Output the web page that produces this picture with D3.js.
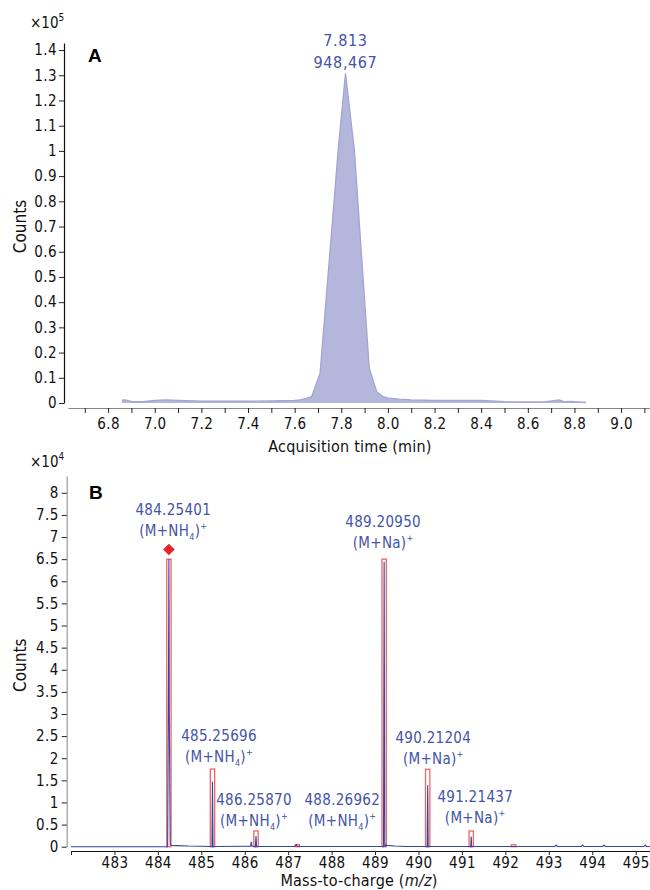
<!DOCTYPE html>
<html><head><meta charset="utf-8">
<script src="https://cdn.jsdelivr.net/npm/d3@7"></script>
<style>
body{margin:0;background:#fff;}
svg text{font-family:'Liberation Sans Narrow','DejaVu Sans Condensed','Roboto Condensed',sans-serif;font-stretch:condensed;}
</style></head>
<body><svg id="c" width="650" height="890"></svg>
<script>
// ---------- Panel A: chromatogram ----------
const timeA = [6.859,6.875,6.90,6.95,7.00,7.05,7.10,7.20,7.30,7.40,7.50,7.55,7.60,7.623,7.650,7.673,7.709,7.750,7.788,7.818,7.856,7.890,7.920,7.952,7.980,8.002,8.05,8.10,8.20,8.30,8.40,8.50,8.60,8.68,8.735,8.76,8.78,8.80,8.85];
const countsA = [1100,1200,500,500,1000,1200,1000,700,700,700,800,900,1000,1200,1800,2500,11800,58400,101700,130800,100400,54400,13800,4500,2500,1900,1500,1200,1000,1000,1000,500,400,500,1200,400,600,500,200];
const xTicksA = [6.7,6.8,6.9,7.0,7.1,7.2,7.3,7.4,7.5,7.6,7.7,7.8,7.9,8.0,8.1,8.2,8.3,8.4,8.5,8.6,8.7,8.8,8.9,9.0,9.1];
const xLabelsA = [6.8,7.0,7.2,7.4,7.6,7.8,8.0,8.2,8.4,8.6,8.8,9.0];
const yTicksA = [0,10000,20000,30000,40000,50000,60000,70000,80000,90000,100000,110000,120000,130000,140000];
const peakA = {t:7.818, c:130800, lines:["7.813","948,467"]};

// ---------- Panel B: mass spectrum ----------
const mzB = [482.0,484.20,484.225,484.245,484.254,484.263,484.285,484.31,484.45,484.7,485.0,485.22,485.245,485.257,485.27,485.29,486.10,486.135,486.15,486.165,486.20,486.245,486.259,486.273,486.30,487.15,487.19,487.21,487.24,489.17,489.195,489.2095,489.224,489.245,489.27,489.45,489.7,490.18,490.200,490.212,490.224,490.25,491.19,491.203,491.214,491.225,491.25,493.14,493.17,493.20,493.75,493.78,493.81,494.24,494.27,494.30,495.19,495.22,495.25,495.33];
const intB = [0,0,0,40000,65000,30000,400,300,250,150,100,50,0,14700,0,50,100,100,1100,100,100,0,2400,0,50,50,400,100,50,50,0,64400,0,400,300,150,50,50,0,13900,0,50,50,0,2300,0,50,50,350,50,50,350,50,50,350,50,50,350,50,50];
const isoMz = [484.254,485.257,486.259,487.21,489.2095,490.212,491.214,492.19];
const isoH  = [65000,17560,3550,450,65000,17500,3550,450];
const xTicksB = [482,483,484,485,486,487,488,489,490,491,492,493,494,495];
const yTicksB = [0,5000,10000,15000,20000,25000,30000,35000,40000,45000,50000,55000,60000,65000,70000,75000,80000];
const annMz  = [484.254,485.257,486.259,488.26962,489.2095,490.212,491.214];
const annNum = ["484.25401","485.25696","486.25870","488.26962","489.20950","490.21204","491.21437"];
const annIon = ["NH4","NH4","NH4","NH4","Na","Na","Na"];
const annVal = [75000,23900,9400,9400,72300,23400,10200];   // vertical position of the label (counts)
const diamond = {mz:484.254, c:67200};

const svg = d3.select("#c");
const blue = "#4454a6";
const fTick = 15;

// scales
const xA = d3.scaleLinear().domain([6.628, 9.124]).range([68, 650]);
const yA = d3.scaleLinear().domain([0, 142800]).range([403, 43]);
const xB = d3.scaleLinear().domain([482, 495.33]).range([71, 650]);
const yB = d3.scaleLinear().domain([0, 83800]).range([846.7, 476]);

function styleAxis(g, col){
  g.selectAll("text").attr("font-size", fTick).attr("fill","#111").style("letter-spacing","0.4px");
  g.selectAll(".tick line").attr("stroke","#222");
  g.select(".domain").attr("stroke", col).attr("stroke-width",1.2);
}

// ----- Panel A -----
const gA = svg.append("g");
const area = d3.area().x((d,i)=>xA(timeA[i])).y0(yA(0)).y1((d,i)=>yA(d)).curve(d3.curveLinear);
gA.append("path").datum(countsA).attr("d", area).attr("fill","#b5b6db");
gA.append("path").datum(countsA).attr("d", d3.line().x((d,i)=>xA(timeA[i])).y(d=>yA(d)))
  .attr("fill","none").attr("stroke","#a3a5d3").attr("stroke-width",1.3);

const axYA = gA.append("g").attr("transform","translate(64,0)")
  .call(d3.axisLeft(yA).tickValues(yTicksA).tickSize(5).tickSizeOuter(0).tickPadding(2)
  .tickFormat(d=>d3.format("~g")(d/1e5)));
styleAxis(axYA,"#111");
const axXA = gA.append("g").attr("transform","translate(0,408)")
  .call(d3.axisBottom(xA).tickValues(xTicksA).tickSize(5).tickSizeOuter(0).tickPadding(5)
  .tickFormat(d=> xLabelsA.some(v=>Math.abs(v-d)<1e-6) ? d3.format(".1f")(d) : ""));
styleAxis(axXA,"#888");

gA.append("text").attr("x",30).attr("y",28).attr("font-size",15).attr("fill","#111")
  .html('×10<tspan dy="-7" font-size="10">5</tspan>');
gA.append("text").attr("x",88).attr("y",62).attr("font-size",19).attr("font-weight","bold")
  .style("font-family","'Liberation Sans',Arial,sans-serif").attr("fill","#000").text("A");
gA.append("text").attr("transform","translate(26,"+yA(70000)+") rotate(-90)").attr("text-anchor","middle")
  .attr("font-size",17).attr("fill","#111").text("Counts");
gA.append("text").attr("x",350).attr("y",452).attr("text-anchor","middle")
  .attr("font-size",16).attr("fill","#111").style("letter-spacing","0.2px").text("Acquisition time (min)");
peakA.lines.forEach((s,i)=>{
  gA.append("text").attr("x",xA(peakA.t)).attr("y",yA(peakA.c)-27+i*22).attr("text-anchor","middle")
    .attr("font-size",16).attr("fill",blue).style("letter-spacing","0.6px").text(s);
});

// ----- Panel B -----
const gB = svg.append("g");
// isotope boxes
gB.selectAll("rect.iso").data(isoMz).join("rect").attr("class","iso")
  .attr("x",d=>xB(d-0.05)).attr("width",d=>xB(d+0.05)-xB(d-0.05))
  .attr("y",(d,i)=>yB(isoH[i])).attr("height",(d,i)=>yB(0)-yB(isoH[i]))
  .attr("fill","none").attr("stroke","#f06464").attr("stroke-width",1.3);
// profile spectrum
gB.append("path").datum(intB)
  .attr("d", d3.line().x((d,i)=>xB(mzB[i])).y(d=>yB(d)))
  .attr("fill","none").attr("stroke","#3346a0").attr("stroke-width",1.1);
// diamond
gB.append("path").attr("d", d3.symbol().type(d3.symbolDiamond2).size(85)())
  .attr("transform","translate("+xB(diamond.mz)+","+yB(diamond.c)+")").attr("fill","#e8222a");

const axYB = gB.append("g").attr("transform","translate(66.7,0)")
  .call(d3.axisLeft(yB).tickValues(yTicksB).tickSize(5).tickSizeOuter(0).tickPadding(3)
  .tickFormat(d=>d3.format("~g")(d/1e4)));
styleAxis(axYB,"#999");
const axXB = gB.append("g").attr("transform","translate(0,851)")
  .call(d3.axisBottom(xB).tickValues(xTicksB).tickSize(4).tickSizeOuter(0).tickPadding(2)
  .tickFormat(d=> d===482 ? "" : d3.format("d")(d)));
styleAxis(axXB,"#111");

gB.append("text").attr("x",30).attr("y",467).attr("font-size",15).attr("fill","#111")
  .html('×10<tspan dy="-7" font-size="10">4</tspan>');
gB.append("text").attr("x",89).attr("y",499).attr("font-size",19).attr("font-weight","bold")
  .style("font-family","'Liberation Sans',Arial,sans-serif").attr("fill","#000").text("B");
gB.append("text").attr("transform","translate(26,"+yB(41000)+") rotate(-90)").attr("text-anchor","middle")
  .attr("font-size",17).attr("fill","#111").text("Counts");
const xt = gB.append("text").attr("x",359).attr("y",886).attr("text-anchor","middle")
  .attr("font-size",16).attr("fill","#111").style("letter-spacing","0.2px");
xt.append("tspan").text("Mass-to-charge (");
xt.append("tspan").attr("font-style","italic").text("m/z");
xt.append("tspan").text(")");

const annOffsetX = [4.4,6.5,-2,-1,-1,5.6,4]; // label x shift relative to the peak (px)
annMz.forEach((m,i)=>{
  const x = xB(m)+annOffsetX[i], y = yB(annVal[i]);
  gB.append("text").attr("x",x).attr("y",y).attr("text-anchor","middle").attr("font-size",15)
    .attr("fill",blue).style("letter-spacing","0.3px").text(annNum[i]);
  const t = gB.append("text").attr("x",x).attr("y",y+21).attr("text-anchor","middle").attr("font-size",15)
    .attr("fill",blue).style("letter-spacing","0.3px");
  if(annIon[i]==="NH4"){
    t.append("tspan").text("(M+NH");
    t.append("tspan").attr("font-size",9).attr("dy",4).text("4");
    t.append("tspan").attr("dy",-4).text(")");
  } else {
    t.append("tspan").text("(M+Na)");
  }
  t.append("tspan").attr("font-size",9).attr("dy",-7).text("+");
});
</script></body></html>
